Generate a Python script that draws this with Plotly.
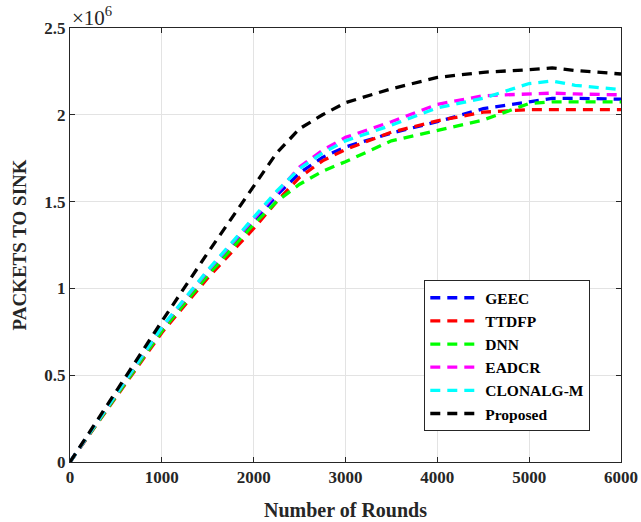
import plotly.graph_objects as go

rounds = [0, 500, 1000, 1500, 2000, 2250, 2500, 2750, 3000, 3500, 4000, 4500, 5000, 5250, 5500, 6000]

geec     = [0, 0.385, 0.765, 1.085, 1.385, 1.535, 1.665, 1.755, 1.815, 1.895, 1.96, 2.035, 2.075, 2.095, 2.095, 2.09]
ttdfp    = [0, 0.372, 0.745, 1.06, 1.345, 1.50, 1.64, 1.735, 1.80, 1.90, 1.965, 2.015, 2.03, 2.03, 2.03, 2.03]
dnn      = [0, 0.378, 0.755, 1.075, 1.37, 1.50, 1.60, 1.675, 1.73, 1.85, 1.91, 1.97, 2.065, 2.075, 2.075, 2.075]
eadcr    = [0, 0.388, 0.775, 1.10, 1.40, 1.555, 1.70, 1.795, 1.87, 1.96, 2.06, 2.11, 2.12, 2.125, 2.12, 2.115]
clonalg  = [0, 0.39, 0.778, 1.105, 1.41, 1.56, 1.69, 1.78, 1.85, 1.94, 2.04, 2.095, 2.18, 2.195, 2.17, 2.145]
proposed = [0, 0.405, 0.81, 1.205, 1.59, 1.78, 1.92, 2.00, 2.07, 2.15, 2.215, 2.245, 2.26, 2.27, 2.255, 2.235]

names = ["GEEC", "TTDFP", "DNN", "EADCR", "CLONALG-M", "Proposed"]
series = [geec, ttdfp, dnn, eadcr, clonalg, proposed]
colors = ["#0000ff", "#ff0000", "#00ff00", "#ff00ff", "#00ffff", "#000000"]

x_ticks = [0, 1000, 2000, 3000, 4000, 5000, 6000]
y_ticks = [0, 0.5e6, 1e6, 1.5e6, 2e6, 2.5e6]
y_tick_text = ["0", "0.5", "1", "1.5", "2", "2.5"]

FF = "Liberation Serif"

fig = go.Figure()
for name, vals, col in zip(names, series, colors):
    fig.add_trace(go.Scatter(
        x=rounds, y=[v * 1e6 for v in vals], mode="lines", name=name,
        line=dict(color=col, width=3.3, dash="10px,7px"),
    ))

axis_common = dict(
    showline=True, linecolor="#262626", linewidth=1, mirror="ticks",
    ticks="inside", ticklen=5, tickcolor="#262626", tickwidth=1,
    showgrid=True, gridcolor="#e3e3e3", gridwidth=1, zeroline=False,
    automargin=False,
    tickfont=dict(family=FF, size=17, color="#262626", weight="bold"),
)

fig.update_layout(
    width=641, height=522,
    margin=dict(l=70, r=20, t=28, b=60),
    paper_bgcolor="white", plot_bgcolor="white",
    font=dict(family=FF, color="#262626"),
    showlegend=True,
    legend=dict(
        x=0.643, y=0.419, xanchor="left", yanchor="top",
        bgcolor="white", bordercolor="#262626", borderwidth=1,
        font=dict(family=FF, size=15.5, color="#000000", weight="bold"),
        itemwidth=50, tracegroupgap=0,
    ),
    xaxis=dict(range=[0, 6000], tickvals=x_ticks,
               title=dict(text="Number of Rounds", font=dict(family=FF, size=20, color="#262626", weight="bold"), standoff=16),
               **axis_common),
    yaxis=dict(range=[0, 2.5e6], tickvals=y_ticks, ticktext=y_tick_text,
               title=dict(text="PACKETS TO SINK", font=dict(family=FF, size=19, color="#262626", weight="bold"), standoff=12),
               **axis_common),
)

fig.add_annotation(
    xref="paper", yref="paper", x=0.0, y=1.0, xanchor="left", yanchor="bottom",
    text="×10<sup>6</sup>", showarrow=False, xshift=0, yshift=-4,
    font=dict(family=FF, size=21, color="#262626"),
)

fig.write_html("out.html")
